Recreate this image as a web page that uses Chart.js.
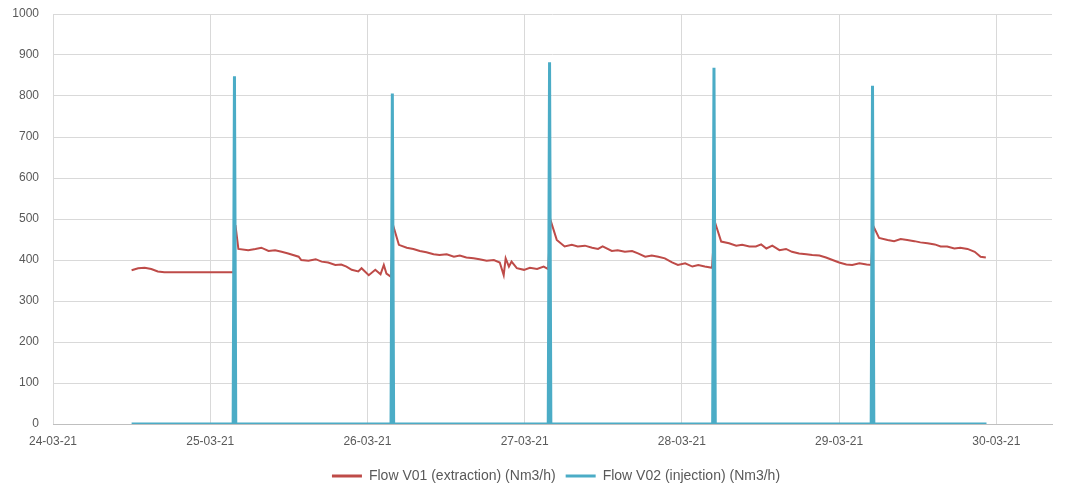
<!DOCTYPE html>
<html>
<head>
<meta charset="utf-8">
<script src="https://cdn.jsdelivr.net/npm/chart.js@4"></script>
<style>
  body { margin: 0; background: #fff; }
  #wrap { width: 1067px; height: 493px; }
</style>
</head>
<body>
<div id="wrap"><canvas id="myChart" width="1067" height="493"></canvas></div>
<script>
// tick labels, one per day (x values are hours since 24-03-21 00:00)
const dayLabels = ['24-03-21', '25-03-21', '26-03-21', '27-03-21', '28-03-21', '29-03-21', '30-03-21'];
const yTicks = [0, 100, 200, 300, 400, 500, 600, 700, 800, 900, 1000];

// Flow V01 (extraction), hours / Nm3/h
const v01Hours = [
    12, 13, 14, 15, 16, 17, 19, 21, 23, 25, 27.6,
    27.85, 28.3, 29.8, 30.9, 31.8, 32.9, 33.9, 34.9, 35.9, 37.5, 37.9, 39.0, 40.1, 41.0, 42.0, 43.1, 44.0, 44.8, 45.6, 46.6, 47.1, 48.2, 49.2, 50.0, 50.5, 50.9, 51.6,
    51.95, 52.8, 54.0, 55.0, 56.0, 57.0, 58.1, 59.0, 60.1, 61.2, 62.1, 63.1, 64.2, 65.1, 66.2, 67.3, 68.2, 68.8, 69.1, 69.6, 70.0, 70.8, 71.9, 72.8, 73.9, 74.9, 75.6,
    75.95, 76.9, 78.1, 79.2, 80.1, 81.2, 82.3, 83.2, 83.9, 85.3, 86.2, 87.3, 88.4, 89.3, 90.4, 91.4, 92.4, 93.4, 94.5, 95.4, 96.5, 97.6, 98.5, 99.5, 100.6,
    101.05, 102.0, 103.2, 104.3, 105.2, 106.3, 107.3, 108.1, 108.9, 109.8, 110.9, 111.9, 112.8, 113.9, 115.0, 115.9, 117.0, 118.0, 119.0, 120.0, 121.1, 122.0, 123.1, 124.2, 124.9,
    125.25, 126.1, 127.4, 128.4, 129.4, 130.4, 131.5, 132.4, 133.5, 134.6, 135.5, 136.5, 137.6, 138.5, 139.6, 140.7, 141.6, 142.4
];
const v01Flow = [
    375, 380, 381, 378, 372, 370, 370, 370, 370, 370, 370,
    485, 427, 424, 427, 430, 422, 424, 420, 416, 408, 400, 398, 402, 396, 394, 388, 389, 384, 376, 372, 380, 363, 376, 365, 388, 367, 359,
    483, 437, 430, 427, 422, 419, 414, 412, 414, 408, 411, 406, 404, 402, 398, 400, 394, 363, 404, 384, 396, 380, 376, 381, 378, 384, 378,
    497, 449, 433, 437, 433, 435, 430, 427, 433, 422, 424, 420, 422, 416, 408, 411, 408, 404, 394, 388, 392, 384, 388, 384, 381,
    492, 445, 441, 435, 437, 433, 433, 438, 428, 435, 424, 427, 420, 416, 414, 412, 411, 406, 400, 394, 389, 388, 392, 389, 388,
    482, 454, 449, 446, 451, 449, 446, 443, 441, 438, 433, 433, 428, 430, 427, 420, 408, 406
];

// Flow V02 (injection), hours / Nm3/h
const v02Hours = [12, 27.5, 27.7, 27.9, 51.6, 51.8, 52.0, 75.6, 75.8, 76.0, 100.7, 100.9, 101.1, 124.9, 125.1, 125.3, 142.5];
const v02Flow = [0, 0, 848, 0, 0, 806, 0, 0, 882, 0, 0, 869, 0, 0, 825, 0, 0];

const red = '#be4b48';
const teal = '#4bacc6';
const grey = '#595959';

function toPoints(xs, ys) {
    const pts = [];
    for (let i = 0; i < xs.length; i++) {
        pts.push({ x: xs[i], y: ys[i] });
    }
    return pts;
}

// legend sits a bit right of centre in the original
const legendShift = {
    id: 'legendShift',
    afterLayout(chart) {
        chart.legend.left += 30;
        chart.legend.right += 30;
    }
};

var ctx = document.getElementById('myChart').getContext('2d');

var myChart = new Chart(ctx, { // eslint-disable-line
    type: 'line',
    data: {
        datasets: [{
            label: 'Flow V01 (extraction) (Nm3/h)',
            data: toPoints(v01Hours, v01Flow),
            borderColor: red,
            backgroundColor: red,
            borderWidth: 2,
            pointRadius: 0,
            order: 1
        }, {
            label: 'Flow V02 (injection) (Nm3/h)',
            data: toPoints(v02Hours, v02Flow),
            borderColor: teal,
            backgroundColor: teal,
            borderWidth: 3,
            pointRadius: 0,
            order: 0
        }]
    },
    plugins: [legendShift],
    options: {
        responsive: false,
        animation: false,
        layout: { padding: { top: 14, right: 15, left: 0, bottom: 0 } },
        plugins: {
            tooltip: { enabled: false },
            legend: {
                position: 'bottom',
                labels: {
                    color: grey,
                    font: { family: 'Liberation Sans', size: 14 },
                    boxWidth: 30,
                    boxHeight: 3,
                    padding: 10,
                    sort: (a, b) => a.datasetIndex - b.datasetIndex,
                    generateLabels: (chart) => chart.data.datasets.map((ds, i) => ({
                        text: ds.label,
                        fillStyle: ds.borderColor,
                        strokeStyle: ds.borderColor,
                        lineWidth: 0,
                        fontColor: grey,
                        datasetIndex: i
                    }))
                }
            }
        },
        scales: {
            x: {
                type: 'linear',
                min: 0,
                max: 152.5,
                afterBuildTicks: (axis) => {
                    axis.ticks = dayLabels.map((d, i) => ({ value: i * 24 }));
                },
                afterFit: (axis) => { axis.height = 35; },
                ticks: {
                    color: grey,
                    font: { family: 'Liberation Sans', size: 12 },
                    padding: 10,
                    maxRotation: 0,
                    callback: (v) => dayLabels[Math.round(v / 24)]
                },
                grid: { color: '#d9d9d9', drawTicks: false },
                border: { color: '#bfbfbf' }
            },
            y: {
                min: 0,
                max: 1000,
                afterBuildTicks: (axis) => {
                    axis.ticks = yTicks.map((v) => ({ value: v }));
                },
                afterFit: (axis) => {
                    axis.width = 53;
                    axis.paddingTop = 0;
                    axis.paddingBottom = 0;
                },
                ticks: {
                    color: grey,
                    font: { family: 'Liberation Sans', size: 12 },
                    padding: 14,
                    callback: (v) => String(v)
                },
                grid: { color: '#d9d9d9', drawTicks: false },
                border: { display: false }
            }
        }
    }
});
</script>
</body>
</html>
